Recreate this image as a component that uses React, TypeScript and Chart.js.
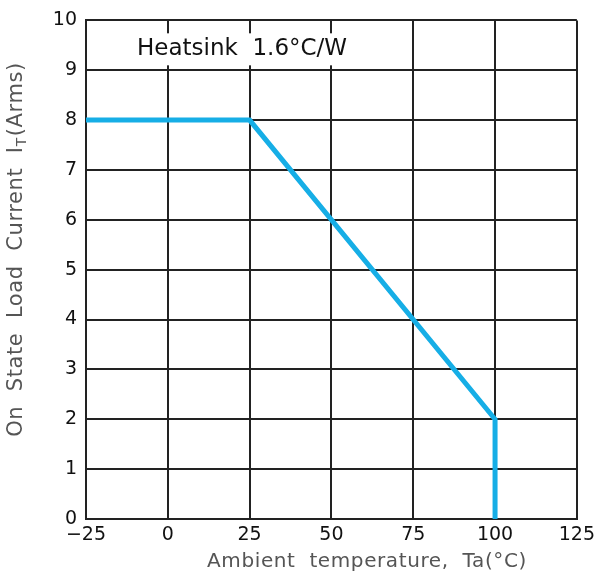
import React, { useEffect, useRef } from "react";
import { Chart, registerables } from "chart.js";

Chart.register(...registerables);

const tempValues = [-25, 25, 100, 100];
const currentValues = [8, 8, 2, 0];
const xTicks = [-25, 0, 25, 50, 75, 100, 125];
const yTicks = [0, 1, 2, 3, 4, 5, 6, 7, 8, 9, 10];
const annotationText = "Heatsink  1.6°C/W";
const xTitle = "Ambient  temperature,  Ta(°C)";
const yTitleMain = "On  State  Load  Current  I";
const yTitleSub = "T";
const yTitleEnd = "(Arms)";

const FONT = "'DejaVu Sans', sans-serif";

const textPlugin = {
  id: "customText",
  afterDraw(chart: any) {
    const { ctx, scales } = chart;
    ctx.save();
    // annotation
    ctx.font = `23px ${FONT}`;
    const w = ctx.measureText(annotationText).width;
    const ax = 137;
    const ay = scales.y.getPixelForValue(9.42);
    ctx.fillStyle = "#fff";
    ctx.fillRect(ax - 7, ay - 16, w + 14, 32);
    ctx.fillStyle = "#111";
    ctx.textBaseline = "middle";
    ctx.textAlign = "left";
    ctx.fillText(annotationText, ax, ay);
    // x title
    ctx.letterSpacing = "0.6px";
    ctx.font = `20px ${FONT}`;
    ctx.fillStyle = "#555";
    ctx.textAlign = "center";
    ctx.fillText(xTitle, 367, 562);
    // y title
    ctx.translate(17, 250);
    ctx.rotate(-Math.PI / 2);
    ctx.font = `21px ${FONT}`;
    const w1 = ctx.measureText(yTitleMain).width;
    ctx.font = `14px ${FONT}`;
    const w2 = ctx.measureText(yTitleSub).width;
    ctx.font = `21px ${FONT}`;
    const w3 = ctx.measureText(yTitleEnd).width;
    let x0 = -(w1 + w2 + w3) / 2;
    ctx.textAlign = "left";
    ctx.textBaseline = "middle";
    ctx.fillText(yTitleMain, x0, 0);
    x0 += w1;
    ctx.font = `14px ${FONT}`;
    ctx.fillText(yTitleSub, x0, 5);
    x0 += w2 + 1;
    ctx.font = `21px ${FONT}`;
    ctx.fillText(yTitleEnd, x0, 0);
    ctx.restore();
  },
};

export default function App() {
  const ref = useRef<HTMLCanvasElement>(null);
  useEffect(() => {
    document.body.style.margin = "0";
    const data = tempValues.map((x, i) => ({ x, y: currentValues[i] }));
    const chart = new Chart(ref.current!, {
      type: "scatter",
      data: {
        datasets: [
          {
            data,
            showLine: true,
            borderColor: "#16aee6",
            borderWidth: 5,
            pointRadius: 0,
            borderCapStyle: "butt",
            borderJoinStyle: "miter",
          },
        ],
      },
      options: {
        responsive: false,
        animation: false,
        layout: { padding: { top: 16, right: 15, left: 0, bottom: 0 } },
        plugins: { legend: { display: false }, tooltip: { enabled: false } },
        scales: {
          x: {
            type: "linear",
            min: -25,
            max: 125,
            afterBuildTicks: (s: any) => {
              s.ticks = xTicks.map((v) => ({ value: v }));
            },
            afterFit: (s: any) => {
              s.height = 59;
            },
            grid: { color: "#222", lineWidth: 2, drawTicks: false },
            border: { color: "#222", width: 2 },
            ticks: {
              color: "#111",
              font: { size: 19, family: FONT },
              padding: 5,
              maxRotation: 0,
              callback: (v: any) => (v < 0 ? "\u2212" + Math.abs(v) : String(v)),
            },
          },
          y: {
            min: 0,
            max: 10,
            afterBuildTicks: (s: any) => {
              s.ticks = yTicks.map((v) => ({ value: v }));
            },
            afterFit: (s: any) => {
              s.width = 86;
            },
            grid: { color: "#222", lineWidth: 2, drawTicks: false },
            border: { color: "#222", width: 2 },
            ticks: {
              color: "#111",
              font: { size: 19, family: FONT },
              padding: 9,
            },
          },
        },
      },
      plugins: [textPlugin],
    });
    return () => chart.destroy();
  }, []);
  return <canvas ref={ref} width={600} height={578} />;
}
